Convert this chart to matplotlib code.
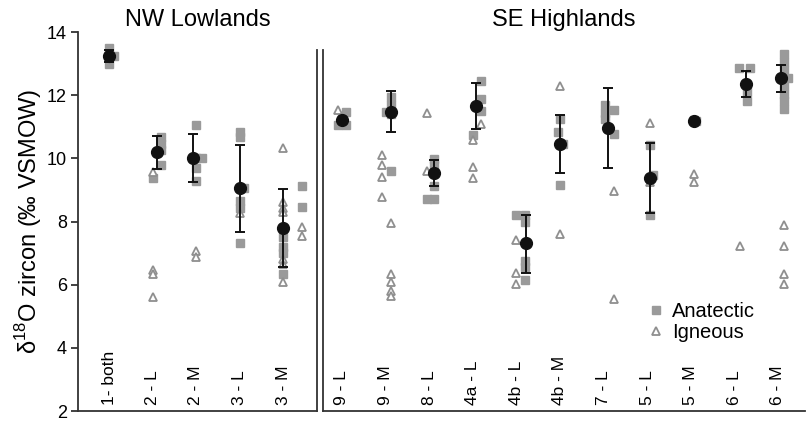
import matplotlib
matplotlib.use("Agg")
import matplotlib.pyplot as plt
from matplotlib.lines import Line2D

plt.rcParams["font.family"] = ["Liberation Sans", "DejaVu Sans"]
plt.rcParams["mathtext.fontset"] = "custom"
plt.rcParams["mathtext.rm"] = "Liberation Sans"

# --- data: NW Lowlands ---
nw_labels = ["1- both", "2 - L", "2 - M", "3 - L", "3 - M"]
nw_ana = [
    [13.5, 13.25, 13.0, 13.23],
    [9.37, 10.67, 10.46, 10.25, 9.78],
    [11.04, 10.02, 9.68, 9.28, 10.0],
    [10.83, 10.67, 9.05, 8.64, 8.43, 7.33],
    [7.5, 7.2, 7.0, 6.34, 9.11, 8.46],
]
nw_ana_dx = [
    [0, 0, 0, 0.12],
    [0, 0.2, 0.2, 0.2, 0.2],
    [0, 0.13, 0, 0, 0],
    [0, 0, 0.1, 0, 0, 0],
    [0, 0, 0, 0, 0.43, 0.43],
]
nw_ign = [
    [],
    [9.58, 6.47, 6.33, 5.6],
    [7.07, 6.88],
    [8.27],
    [10.33, 8.61, 8.43, 8.3, 6.81, 6.65, 6.1, 7.83, 7.54],
]
nw_ign_dx = [
    [],
    [0, 0, 0, 0],
    [0, 0],
    [0],
    [0, 0, 0, 0, 0, 0, 0, 0.43, 0.43],
]
nw_mean = [13.23, 10.2, 10.01, 9.05, 7.8]
nw_lo = [13.04, 9.66, 9.26, 7.66, 6.57]
nw_hi = [13.42, 10.72, 10.76, 10.43, 9.03]
nw_mean_dx = [0, 0.11, -0.07, 0, 0]

# --- data: SE Highlands ---
se_labels = ["9 - L", "9 - M", "8 - L", "4a - L", "4b - L", "4b - M",
             "7 - L", "5 - L", "5 - M", "6 - L", "6 - M"]
se_ana = [
    [11.04, 11.46, 11.04, 11.3],
    [11.95, 11.7, 11.4, 11.48, 9.6],
    [9.99, 9.8, 9.11, 8.71, 8.71],
    [12.45, 11.87, 11.5, 10.75],
    [8.22, 8.22, 8.0, 6.76, 6.55, 6.16],
    [11.25, 10.83, 10.46, 9.16],
    [11.7, 11.45, 11.25, 11.54, 10.78],
    [10.43, 9.47, 8.22],
    [11.17, 11.2],
    [12.85, 12.85, 12.1, 11.82],
    [13.3, 13.05, 12.8, 12.55, 12.3, 12.05, 11.8, 11.55, 12.53],
]
se_ana_dx = [
    [-0.1, 0.1, 0.1, 0],
    [0.12, 0.12, 0.12, 0, 0.12],
    [0.11, 0.11, 0.11, -0.05, 0.11],
    [0.19, 0.19, 0.19, 0],
    [0, 0.2, 0.2, 0.2, 0.2, 0.2],
    [0, -0.05, 0.07, 0],
    [0.03, 0.03, 0.03, 0.24, 0.24],
    [0.06, 0.13, 0.06],
    [0.12, 0.07],
    [0.1, 0.36, 0.3, 0.3],
    [0.14, 0.14, 0.14, 0.14, 0.14, 0.14, 0.14, 0.14, 0.23],
]
se_ign = [
    [11.54],
    [10.12, 9.78, 9.42, 8.76, 7.96, 6.34, 6.08, 5.79, 5.63],
    [11.44, 9.6],
    [11.09, 10.59, 9.73, 9.39],
    [7.43, 6.36, 6.02],
    [12.29, 7.61],
    [8.95, 5.55],
    [11.12, 9.26],
    [9.49, 9.24],
    [7.22],
    [7.9, 7.22, 6.34, 6.02],
]
se_ign_dx = [
    [-0.1],
    [-0.08, -0.08, -0.08, -0.08, 0.12, 0.12, 0.12, 0.12, 0.12],
    [-0.05, -0.05],
    [0.19, 0, 0, 0],
    [0, 0, 0],
    [0, 0],
    [0.24, 0.24],
    [0.06, 0.06],
    [0.07, 0.07],
    [0.13],
    [0.14, 0.14, 0.14, 0.14],
]
se_mean = [11.22, 11.48, 9.55, 11.67, 7.31, 10.46, 10.95, 9.39, 11.17, 12.34, 12.53]
se_lo = [11.15, 10.83, 9.13, 10.93, 6.36, 9.52, 9.7, 8.27, 11.1, 11.95, 12.1]
se_hi = [11.29, 12.13, 9.96, 12.37, 8.22, 11.38, 12.24, 10.5, 11.24, 12.76, 12.97]
se_mean_dx = [0, 0.12, 0.11, 0.07, 0.22, 0, 0.1, 0.06, 0.07, 0.27, 0.08]

SQ = "#9a9a9a"
TRI = "#8f8f8f"
SPINE = "#333333"

fig = plt.figure(figsize=(8.06, 4.21), dpi=100)
ax1 = fig.add_axes([78 / 806, 10 / 421, 239 / 806, 379 / 421])
ax2 = fig.add_axes([323 / 806, 10 / 421, 482 / 806, 379 / 421])


def draw_panel(ax, labels, ana, ana_dx, ign, ign_dx, mean, lo, hi, mean_dx):
    for i, lab in enumerate(labels):
        x0 = i + 1
        ax.plot([x0 + d for d in ana_dx[i]], ana[i], ls="none", marker="s",
                ms=6.2, mfc=SQ, mec=SQ, zorder=2)
        ax.plot([x0 + d for d in ign_dx[i]], ign[i], ls="none", marker="^",
                ms=6, mfc="white", mec=TRI, mew=1.3, zorder=2)
        xm = x0 + mean_dx[i]
        ax.errorbar([xm], [mean[i]], yerr=[[mean[i] - lo[i]], [hi[i] - mean[i]]],
                    fmt="o", ms=8.5, color="#111111", ecolor="#111111",
                    elinewidth=1.4, capsize=3.8, capthick=1.4, zorder=3)
        ax.text(x0, 2.2, lab, rotation=90, ha="center", va="bottom",
                fontsize=12.5)
    ax.set_ylim(2, 14)
    ax.spines["top"].set_visible(False)
    for s in ax.spines.values():
        s.set_color(SPINE)
        s.set_linewidth(1.3)
    ax.set_xticks([])


draw_panel(ax1, nw_labels, nw_ana, nw_ana_dx, nw_ign, nw_ign_dx,
           nw_mean, nw_lo, nw_hi, nw_mean_dx)
draw_panel(ax2, se_labels, se_ana, se_ana_dx, se_ign, se_ign_dx,
           se_mean, se_lo, se_hi, se_mean_dx)

ax1.set_xlim(1 - 31 / 43.5, 1 + 208 / 43.5)
ax2.set_xlim(1 - 19 / 43.6, 1 + 463 / 43.6)

ax1.set_yticks(range(2, 15, 2))
ax1.tick_params(axis="y", labelsize=13, length=5, width=1.3, color=SPINE, pad=3)
ax1.spines["right"].set_bounds(2, 13.44)
ax1.set_ylabel("δ$^{\\mathregular{18}}$O zircon (‰ VSMOW)", fontsize=17, labelpad=2)

ax2.set_yticks([])
ax2.spines["right"].set_visible(False)
ax2.spines["left"].set_bounds(2, 13.44)

ax1.set_title("NW Lowlands", fontsize=17, pad=4)
ax2.set_title("SE Highlands", fontsize=17, pad=4)

handles = [
    Line2D([], [], ls="none", marker="s", ms=6.2, mfc=SQ, mec=SQ),
    Line2D([], [], ls="none", marker="^", ms=6, mfc="white", mec=TRI, mew=1.3),
]
fig.legend(handles, ["Anatectic", "Igneous"], loc="upper left",
           bbox_to_anchor=(648 / 806, 1 - 302 / 421), frameon=False,
           fontsize=14.5, handlelength=0.8, handletextpad=0.4,
           labelspacing=0.1, borderpad=0, borderaxespad=0)

fig.savefig("out.png", dpi=100)
